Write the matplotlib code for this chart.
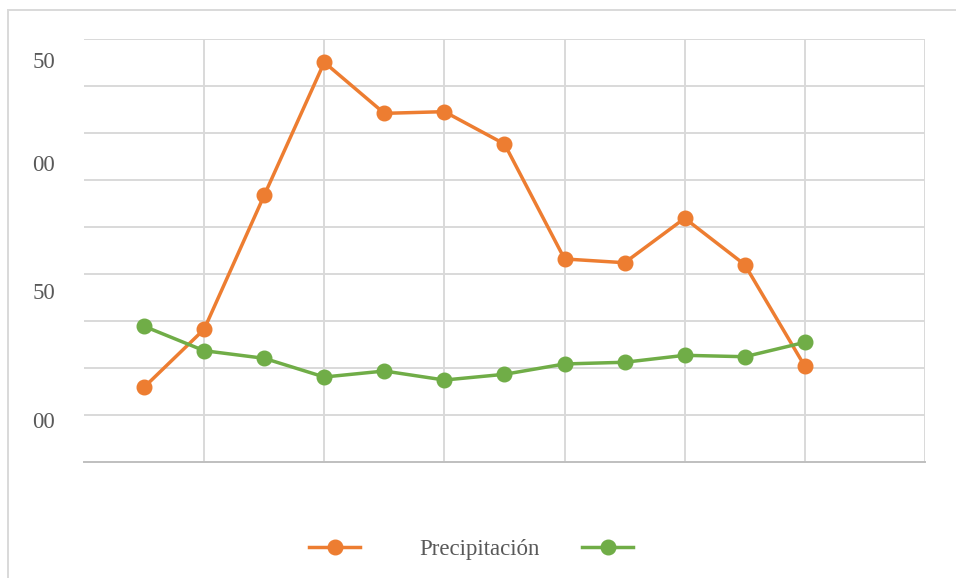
import matplotlib
matplotlib.use("Agg")
import matplotlib.pyplot as plt
from matplotlib.lines import Line2D
from matplotlib.patches import Rectangle
import numpy as np

# Monthly series
months = ["Ene", "Feb", "Mar", "Abr", "May", "Jun",
          "Jul", "Ago", "Sep", "Oct", "Nov", "Dic"]
precipitacion = [79.5, 141.2, 283.7, 425.2, 370.9, 372.7,
                 338.3, 216.0, 212.0, 259.3, 209.9, 101.8]
serie_2 = [144.4, 118.4, 110.3, 90.4, 96.8, 87.2,
           93.3, 104.3, 106.1, 113.5, 112.0, 127.3]

# Axis text as printed on the value axis
ytick_labels = ["50", "00", "50", "00"]
ytick_values = [427.7, 318.0, 182.0, 44.7]

ORANGE = "#ED7D31"
GREEN = "#70AD47"
GRID = "#D9D9D9"
TEXT = "#595959"

plt.rcParams["font.family"] = ["Liberation Serif", "DejaVu Serif"]

fig = plt.figure(figsize=(9.56, 5.78), dpi=100)
ax = fig.add_axes([84 / 956, 1 - 462 / 578, 841 / 956, 423 / 578])

x = np.arange(len(months))
ax.plot(x, precipitacion, color=ORANGE, lw=2.5, marker="o", ms=10.5,
        mec=ORANGE, mfc=ORANGE, zorder=3)
ax.plot(x, serie_2, color=GREEN, lw=2.5, marker="o", ms=10.5,
        mec=GREEN, mfc=GREEN, zorder=3)

ax.set_xlim(-1, len(months) + 1)
ax.set_ylim(0, 450)

# grid lines on minor ticks, labels on major ticks
ax.set_yticks(np.arange(50, 451, 50), minor=True)
ax.set_xticks(np.arange(1, len(months) + 2, 2), minor=True)
ax.set_xticks([])
ax.set_yticks(ytick_values)
ax.set_yticklabels(ytick_labels)
ax.grid(which="minor", color=GRID, lw=1.4, zorder=0)
ax.tick_params(which="both", length=0)
ax.tick_params(axis="y", labelsize=16.5, labelcolor=TEXT, pad=21)

for side in ["top", "left", "right"]:
    ax.spines[side].set_visible(False)
ax.spines["bottom"].set_color("#BFBFBF")
ax.spines["bottom"].set_linewidth(1.4)

# chart frame
fig.add_artist(Rectangle((8 / 956, -0.1), 1.2, 1.1 - 10 / 578,
                         transform=fig.transFigure, fill=False,
                         edgecolor=GRID, lw=1.4))

handles = [
    Line2D([], [], color=ORANGE, lw=2.5, marker="o", ms=10.5, mec=ORANGE),
    Line2D([], [], color=GREEN, lw=2.5, marker="o", ms=10.5, mec=GREEN),
]
fig.legend(handles, ["Precipitación", ""], ncol=2, frameon=False,
           loc="center left", bbox_to_anchor=(309 / 956, 1 - 549 / 578),
           borderpad=0, borderaxespad=0, fontsize=16.5,
           labelcolor=TEXT, handlelength=2.23, handletextpad=2.58,
           columnspacing=1.85)

fig.savefig("out.png", dpi=100)
